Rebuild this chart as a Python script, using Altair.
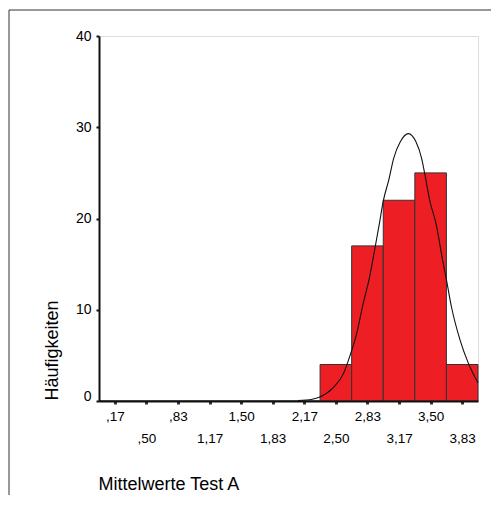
import altair as alt
import pandas as pd

# Histogram bins (centers) and counts
bin_centers = [0.1667, 0.5, 0.8333, 1.1667, 1.5, 1.8333, 2.1667, 2.5, 2.8333, 3.1667, 3.5, 3.8333]
counts = [0, 0, 0, 0, 0, 0, 0, 4, 17, 22, 25, 4]
tick_labels = [",17", ",50", ",83", "1,17", "1,50", "1,83", "2,17", "2,50", "2,83", "3,17", "3,50", "3,83"]
y_ticks = [0, 10, 20, 30, 40]

# Normal curve
curve_x = [2.10, 2.25, 2.33, 2.47, 2.58, 2.65, 2.72, 2.78, 2.86, 2.91, 2.96, 3.00, 3.06, 3.11,
           3.18, 3.265, 3.345, 3.405, 3.44, 3.49, 3.56, 3.62, 3.67, 3.72, 3.81, 3.90, 4.00]
curve_y = [0.05, 0.2, 0.45, 1.45, 3.0, 5.0, 7.4, 10.3, 13.8, 16.6, 19.5, 21.9, 24.3, 26.6,
           28.4, 29.3, 28.4, 26.6, 24.8, 22.0, 19.3, 15.8, 13.1, 10.3, 6.7, 4.1, 2.0]

bars_df = pd.DataFrame({"center": bin_centers, "count": counts})
curve_df = pd.DataFrame({"x": curve_x, "y": curve_y})

FONT = "Liberation Sans"
lab_arr = "[" + ",".join(f"'{l}'" for l in tick_labels) + "]"
idx = "round(datum.value*3-0.5)"
label_expr = f"{idx} % 2 == 1 ? ['', {lab_arr}[{idx}]] : {lab_arr}[{idx}]"

x_scale = alt.Scale(domain=[0, 4], nice=False, zero=False)
y_scale = alt.Scale(domain=[0, 40], nice=False)

x_axis = alt.Axis(
    values=bin_centers,
    labelExpr=label_expr,
    labelPadding=16,
    labelBaseline="alphabetic",
    labelLineHeight=22,
    labelFontSize=13.5,
    labelOverlap=False,
    labelFlush=False,
    labelBound=False,
    tickSize=3,
    tickWidth=3,
    tickColor="#333333",
    domainColor="#111111",
    domainWidth=2,
    grid=False,
    title="Mittelwerte Test A",
    titleX=-1,
    titleY=88,
    titleAlign="left",
    titleBaseline="alphabetic",
    titleFontSize=18,
    titleFontWeight="normal",
    zindex=1,
)

y_axis = alt.Axis(
    values=y_ticks,
    labelFontSize=14,
    labelPadding=5,
    labelOffset={"condition": {"test": "datum.value == 0", "value": -5}, "value": 0},
    tickSize=3,
    tickWidth=2,
    tickColor="#111111",
    domainColor="#111111",
    domainWidth=2,
    grid=False,
    title="Häufigkeiten",
    titleX=-47,
    titleY=364,
    titleAngle=-90,
    titleAlign="left",
    titleBaseline="middle",
    titleFontSize=18,
    titleFontWeight="normal",
    zindex=1,
)

bars = alt.Chart(bars_df).transform_calculate(
    lo="datum.center - 1/6", hi="datum.center + 1/6"
).mark_rect(color="#ed1f24", stroke="#333333", strokeWidth=1).encode(
    x=alt.X("lo:Q", scale=x_scale, axis=x_axis),
    x2="hi:Q",
    y=alt.Y("count:Q", scale=y_scale, axis=y_axis),
    y2=alt.datum(0),
)

curve = alt.Chart(curve_df).mark_line(color="#111111", strokeWidth=1.1, interpolate="monotone").encode(
    x=alt.X("x:Q", scale=x_scale, axis=x_axis),
    y=alt.Y("y:Q", scale=y_scale, axis=y_axis),
)

frame = alt.Chart(alt.Data(values=[{"a": 1}])).mark_rect(
    fill="transparent", stroke="#333333", strokeWidth=1, clip=False
).encode(
    x=alt.value(-90), x2=alt.value(560), y=alt.value(-26), y2=alt.value(600)
)

chart = alt.layer(frame, bars, curve).properties(
    width=379,
    height=365,
    autosize=alt.AutoSizeParams(type="none"),
    padding={"left": 91, "top": 28, "right": 13, "bottom": 94},
).configure_view(
    stroke="#666666", strokeWidth=1
).configure_axis(
    labelFont=FONT, titleFont=FONT, labelColor="#222222", titleColor="#222222",
    labelOverlap=False,
).configure_axisX(
    labelOverlap=False
).configure(background="white")

chart.save("out.html", embed_options={"renderer": "svg", "actions": False})
